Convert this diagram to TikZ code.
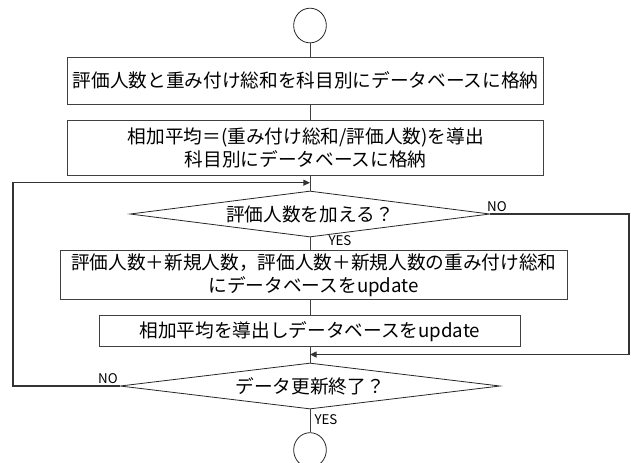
\documentclass[tikz,border=0pt]{standalone}
\usepackage{fontspec}
\setmainfont{Noto Sans CJK JP}
\usetikzlibrary{shapes.geometric,arrows.meta}
\begin{document}
\begin{tikzpicture}[x=0.75pt,y=-0.75pt,
  box/.style={draw=black!75, line width=0.7pt, inner sep=0pt, align=center,
    font=\fontsize{14}{17.3}\selectfont},
  dia/.style={draw=black!85, line width=0.6pt, diamond, inner sep=0pt},
  term/.style={draw=black!85, line width=0.6pt, ellipse, inner sep=0pt, minimum width=24.5pt, minimum height=26pt},
  conn/.style={draw=black!75, line width=0.7pt},
  loop/.style={draw=black!80, line width=1pt},
  tip/.style={-{Triangle[length=5pt,width=4.5pt]}},
  lab/.style={font=\fontsize{10}{12}\selectfont, inner sep=0pt},
  dtext/.style={font=\fontsize{14}{17}\selectfont}]
\useasboundingbox (0,0) rectangle (631,462);
\begin{scope}
\clip (0,0) rectangle (631,462);
\node[term] (c1) at (310,25.5) {};
\node[box, minimum width=357pt, minimum height=35.25pt] (b1) at (305.7,80.5)
  {評価人数と重み付け総和を科目別にデータベースに格納};
\node[box, minimum width=357pt, minimum height=41.25pt] (b2) at (305.7,147.5)
  {相加平均＝(重み付け総和/評価人数)を導出\\科目別にデータベースに格納};
\node[dia, minimum width=270pt, minimum height=34.5pt] (d1) at (310,214) {};
\node[dtext] (t1) at (d1.center) {評価人数を加える？};
\node[box, minimum width=380pt, minimum height=36.4pt] (b3) at (313.7,275.2)
  {評価人数＋新規人数，評価人数＋新規人数の重み付け総和\\にデータベースをupdate};
\node[box, minimum width=316pt, minimum height=23.25pt] (b4) at (309.8,331.2)
  {相加平均を導出しデータベースをupdate};
\node[dia, minimum width=285pt, minimum height=34.5pt] (d2) at (310,386) {};
\node[dtext] (t2) at (d2.center) {データ更新終了？};
\node[term] (c2) at (310,450) {};

\coordinate (m1) at (310,182.7);
\coordinate (m2) at (310,354.5);
\coordinate (r1) at (629,214);
\coordinate (r2) at (629,354.5);
\coordinate (l1) at (13,386);
\coordinate (l2) at (13,182.7);

\draw[conn] (c1.south) -- (c1.south |- b1.north);
\draw[conn] (c1.south |- b1.south) -- (c1.south |- b2.north);
\draw[conn] (d1.north |- b2.south) -- (d1.north);
\draw[conn] (d1.south) -- (d1.south |- b3.north);
\draw[conn] (d1.south |- b3.south) -- (d1.south |- b4.north);
\draw[conn] (d2.north |- b4.south) -- (d2.north);
\draw[conn] (d2.south) -- (c2.north);
\draw[loop,tip] (d1.east) -- (r1) -- (r2) -- (m2);
\draw[loop,tip] (d2.west) -- (l1) -- (l2) -- (m1);

\node[lab] (no1) at (497,207) {NO};
\node[lab] (yes1) at (340,241) {YES};
\node[lab] (no2) at (108,379) {NO};
\node[lab] (yes2) at (326,420) {YES};
\end{scope}
\end{tikzpicture}
\end{document}
